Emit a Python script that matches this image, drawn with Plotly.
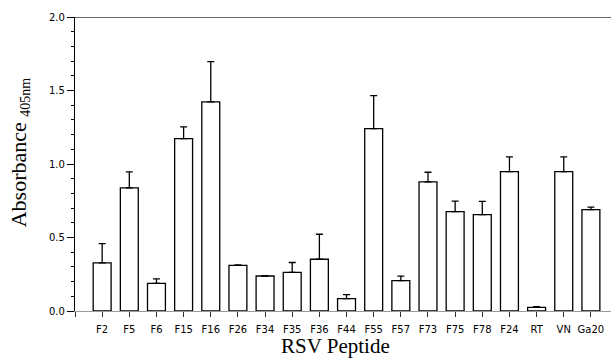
import plotly.graph_objects as go

categories = ["F2", "F5", "F6", "F15", "F16", "F26", "F34", "F35", "F36", "F44",
              "F55", "F57", "F73", "F75", "F78", "F24", "RT", "VN", "Ga20"]
absorbance = [0.327, 0.837, 0.188, 1.173, 1.422, 0.310, 0.238, 0.263, 0.352, 0.084,
              1.241, 0.207, 0.878, 0.676, 0.656, 0.948, 0.025, 0.948, 0.690]
error_upper = [0.131, 0.109, 0.030, 0.079, 0.275, 0.004, 0.003, 0.067, 0.170, 0.028,
               0.224, 0.030, 0.066, 0.072, 0.090, 0.100, 0.005, 0.100, 0.017]
y_tick_vals = [0.0, 0.5, 1.0, 1.5, 2.0]

x_pos = list(range(len(categories)))

fig = go.Figure()
fig.add_trace(go.Bar(
    x=x_pos, y=absorbance, width=0.66,
    marker=dict(color="white", line=dict(color="black", width=1.3)),
    error_y=dict(type="data", symmetric=False, array=error_upper,
                 arrayminus=[0] * len(error_upper),
                 color="black", thickness=1.3, width=3.5),
    showlegend=False,
))

fig.update_layout(
    width=611, height=358,
    margin=dict(l=75, r=0, t=17, b=47, pad=0),
    plot_bgcolor="white", paper_bgcolor="white",
    font=dict(family="DejaVu Sans", size=10, color="black"),
    xaxis=dict(
        range=[-1, 18.74],
        tickvals=x_pos, ticktext=categories,
        showgrid=False, zeroline=False,
        showline=True, linecolor="#9a9a9a", linewidth=1.3,
        ticks="outside", ticklen=5, tickcolor="#333", tickwidth=1,
        minor=dict(tickvals=[-1], ticks="outside", ticklen=5, tickcolor="#333", tickwidth=1),
        ticklabelstandoff=4,
        tickfont=dict(family="DejaVu Sans", size=10, color="black"),
    ),
    yaxis=dict(
        range=[0, 2.0],
        tickvals=y_tick_vals, tickformat=".1f",
        showgrid=False, zeroline=False,
        showline=True, linecolor="black", linewidth=1.3,
        ticks="outside", ticklen=7, tickcolor="black", tickwidth=1,
        minor=dict(dtick=0.1, ticks="outside", ticklen=3, tickcolor="black", tickwidth=1),
        tickfont=dict(family="DejaVu Sans", size=10, color="black"),
    ),
    shapes=[dict(type="line", xref="paper", yref="y", x0=0, x1=1, y0=2.0, y1=2.0,
                 line=dict(color="#333", width=1.5))],
    annotations=[
        dict(text="RSV Peptide", xref="paper", yref="paper", x=(335 - 75) / 536, y=0,
             yshift=-48, xanchor="center", yanchor="bottom", showarrow=False,
             borderpad=0,
             font=dict(family="Liberation Serif", size=21, color="black")),
        dict(text="Absorbance <sub><span style='font-size:14px'>405nm</span></sub>",
             xref="paper", yref="paper", x=0, xshift=-75 + 4,
             y=(310.7 - 152) / 294, xanchor="left", yanchor="middle",
             textangle=-90, showarrow=False,
             font=dict(family="Liberation Serif", size=22, color="black")),
    ],
)

fig.write_html("out.html")
